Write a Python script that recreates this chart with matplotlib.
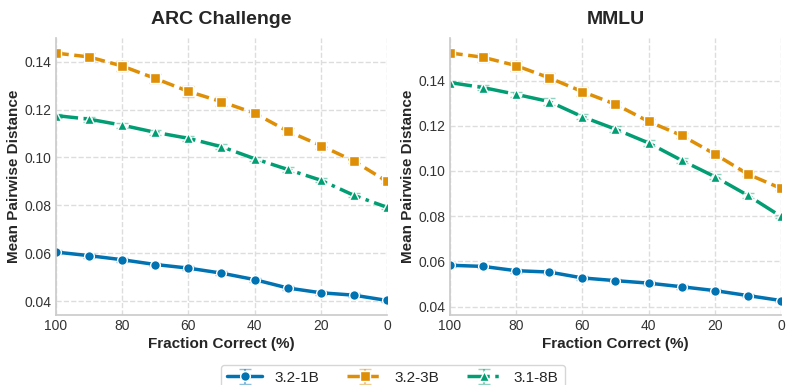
import numpy as np
import matplotlib
matplotlib.use("Agg")
import matplotlib.pyplot as plt
import seaborn as sns

# ===== style =====
sns.set_theme(style="whitegrid")
plt.rcParams['font.family'] = ['Liberation Sans', 'DejaVu Sans']
plt.rcParams.update({
    'grid.linestyle': '--',
    'grid.color': '#dddddd',
    'axes.edgecolor': '#cccccc',
})

# ===== data =====
frac = [100, 90, 80, 70, 60, 50, 40, 30, 20, 10, 0]
models = ["3.2-1B", "3.2-3B", "3.1-8B"]

arc_1b = [0.0605, 0.0590, 0.0573, 0.0553, 0.0538, 0.0517, 0.0490, 0.0455, 0.0435, 0.0425, 0.0403]
arc_3b = [0.1436, 0.1420, 0.1382, 0.1330, 0.1276, 0.1233, 0.1185, 0.1110, 0.1050, 0.0985, 0.0900]
arc_8b = [0.1175, 0.1160, 0.1135, 0.1105, 0.1080, 0.1045, 0.0995, 0.0950, 0.0905, 0.0842, 0.0792]
arc_1b_err = [0.0008] * 11
arc_3b_err = [0.0010, 0.0015, 0.0020, 0.0018, 0.0022, 0.0020, 0.0012, 0.0015, 0.0015, 0.0010, 0.0008]
arc_8b_err = [0.0008, 0.0010, 0.0010, 0.0010, 0.0010, 0.0010, 0.0008, 0.0010, 0.0008, 0.0008, 0.0008]

mmlu_1b = [0.0583, 0.0578, 0.0559, 0.0553, 0.0527, 0.0515, 0.0504, 0.0488, 0.0471, 0.0449, 0.0427]
mmlu_3b = [0.1522, 0.1503, 0.1466, 0.1412, 0.1351, 0.1295, 0.1219, 0.1157, 0.1075, 0.0986, 0.0923]
mmlu_8b = [0.1391, 0.1369, 0.1339, 0.1307, 0.1240, 0.1185, 0.1124, 0.1047, 0.0975, 0.0892, 0.0799]
mmlu_1b_err = [0.0008] * 11
mmlu_3b_err = [0.0010, 0.0020, 0.0022, 0.0022, 0.0020, 0.0012, 0.0012, 0.0012, 0.0012, 0.0010, 0.0008]
mmlu_8b_err = [0.0008, 0.0010, 0.0012, 0.0015, 0.0012, 0.0012, 0.0012, 0.0012, 0.0012, 0.0010, 0.0008]

colors = ["#0173b2", "#de8f05", "#029e73"]
markers = ["o", "s", "^"]
styles = ["-", "--", "-."]

panels = [
    ("ARC Challenge", [arc_1b, arc_3b, arc_8b], [arc_1b_err, arc_3b_err, arc_8b_err]),
    ("MMLU", [mmlu_1b, mmlu_3b, mmlu_8b], [mmlu_1b_err, mmlu_3b_err, mmlu_8b_err]),
]

fig, axes = plt.subplots(1, 2, figsize=(7.86, 3.85), dpi=100)
fig.subplots_adjust(left=0.0712, right=0.9936, bottom=0.182, top=0.901, wspace=0.19)

for ax, (title, ys, errs) in zip(axes, panels):
    for name, y, e, c, m, ls in zip(models, ys, errs, colors, markers, styles):
        cont = ax.errorbar(frac, y, yerr=e, color=c, marker=m, linestyle=ls,
                           linewidth=2.5, markersize=7, markeredgecolor='white',
                           markeredgewidth=1.0, capsize=4, elinewidth=1.5,
                           capthick=1.5, label=name)
        for art in cont[1]:
            art.set_alpha(0.45)
        for art in cont[2]:
            art.set_alpha(0.45)
    ax.set_xlim(100, 0)
    ax.set_xticks([100, 80, 60, 40, 20, 0])
    ax.set_title(title, fontsize=14, fontweight='bold', pad=10)
    ax.set_xlabel("Fraction Correct (%)", fontsize=11, fontweight='bold', labelpad=3)
    ax.set_ylabel("Mean Pairwise Distance", fontsize=11, fontweight='bold', labelpad=3)
    ax.tick_params(labelsize=10, length=0, pad=3, labelcolor='#333333')
    ax.yaxis.set_major_formatter(matplotlib.ticker.FormatStrFormatter('%.2f'))
    sns.despine(ax=ax)

handles, labels = axes[0].get_legend_handles_labels()
fig.legend(handles, labels, loc='lower center', ncol=3, fontsize=11,
           bbox_to_anchor=(0.5, -0.035), frameon=True, handlelength=2.3,
           columnspacing=1.8)

fig.savefig("out.png", dpi=100)
